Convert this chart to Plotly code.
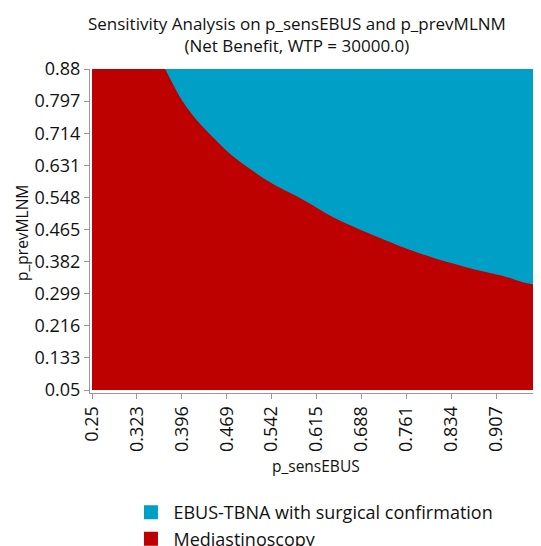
import plotly.graph_objects as go

# Data
x_min, x_max = 0.25, 0.98
y_min, y_max = 0.05, 0.88
x_ticks = [0.25, 0.323, 0.396, 0.469, 0.542, 0.615, 0.688, 0.761, 0.834, 0.907, 0.98]
y_ticks = [0.05, 0.133, 0.216, 0.299, 0.382, 0.465, 0.548, 0.631, 0.714, 0.797, 0.88]

# decision boundary (p_sensEBUS, p_prevMLNM)
boundary_sens = [0.369, 0.394, 0.415, 0.442, 0.470, 0.497, 0.524, 0.551, 0.589,
                 0.643, 0.697, 0.751, 0.805, 0.860, 0.914, 0.980]
boundary_prev = [0.880, 0.805, 0.758, 0.711, 0.667, 0.633, 0.603, 0.577, 0.546,
                 0.496, 0.457, 0.422, 0.392, 0.367, 0.347, 0.328]

strategies = ["EBUS-TBNA with surgical confirmation", "Mediastinoscopy"]
colors = ["#00a0c6", "#bd0000"]

fig = go.Figure()

# Mediastinoscopy region (whole domain, drawn first)
fig.add_trace(go.Scatter(
    x=[x_min, x_max, x_max, x_min],
    y=[y_min, y_min, y_max, y_max],
    fill="toself", fillcolor=colors[1], mode="none",
    showlegend=False, hoverinfo="skip"))

# EBUS region (above boundary)
ebus_x = boundary_sens + [x_max]
ebus_y = boundary_prev + [y_max]
fig.add_trace(go.Scatter(
    x=ebus_x, y=ebus_y,
    fill="toself", fillcolor=colors[0], mode="lines",
    line=dict(width=0, shape="spline", smoothing=0.8, color=colors[0]),
    showlegend=False, hoverinfo="skip"))

# legend entries
for name, c in zip(strategies, colors):
    fig.add_trace(go.Scatter(
        x=[None], y=[None], mode="markers", name=name,
        marker=dict(symbol="square", size=14, color=c)))

font_family = "Open Sans, DejaVu Sans, sans-serif"

# small padding so the axis lines sit just outside the coloured region
x_pad = (x_max - x_min) * 2 / 449
y_pad = (y_max - y_min) * 3 / 322

fig.update_layout(
    width=533, height=538,
    margin=dict(l=82, r=0, t=61, b=153, autoexpand=False),
    paper_bgcolor="white", plot_bgcolor="white",
    font=dict(family=font_family, size=18, color="#111111"),
    title=dict(
        text="Sensitivity Analysis on p_sensEBUS and p_prevMLNM<br>(Net Benefit, WTP = 30000.0)",
        x=0.542, xanchor="center", xref="container",
        y=0.959, yanchor="top", yref="container",
        font=dict(family=font_family, size=17, color="#111111")),
    showlegend=True,
    legend=dict(
        orientation="v", x=0.226, xanchor="left", xref="container",
        y=0.0966, yanchor="top", yref="container",
        font=dict(family=font_family, size=18, color="#111111"),
        itemwidth=35,
        bgcolor="rgba(0,0,0,0)", tracegroupgap=0),
    xaxis=dict(
        range=[x_min - x_pad, x_max],
        tickmode="array", tickvals=x_ticks, ticktext=[str(v) for v in x_ticks],
        tickangle=-90, ticks="outside", ticklen=5, tickcolor="#999999",
        showline=True, linecolor="#999999", linewidth=1,
        showgrid=False, zeroline=False, ticklabeloverflow="allow",
        tickfont=dict(size=18)),
    yaxis=dict(
        range=[y_min - y_pad, y_max],
        tickmode="array", tickvals=y_ticks, ticktext=[str(v) for v in y_ticks],
        ticks="outside", ticklen=5, tickcolor="#999999",
        showline=True, linecolor="#999999", linewidth=1,
        showgrid=False, zeroline=False,
        tickfont=dict(size=18)),
    annotations=[
        dict(text="p_sensEBUS", xref="paper", yref="paper", x=0.501, y=-0.2253,
             xanchor="center", yanchor="middle", showarrow=False,
             font=dict(family=font_family, size=15.5, color="#111111")),
        dict(text="p_prevMLNM", xref="paper", yref="paper", x=-0.1508, y=0.494,
             xanchor="center", yanchor="middle", showarrow=False, textangle=-90,
             font=dict(family=font_family, size=15.5, color="#111111")),
    ],
)

fig.write_html("out.html")
